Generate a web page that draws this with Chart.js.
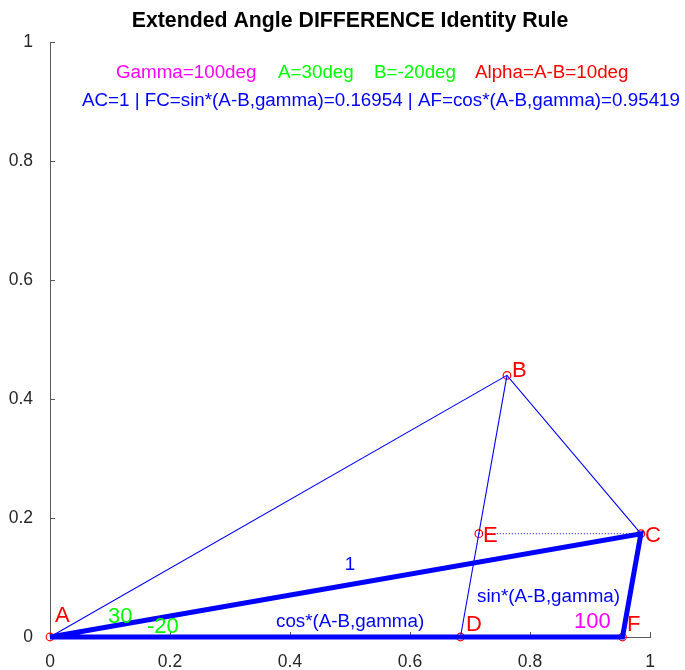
<!DOCTYPE html>
<html>
<head>
<meta charset="utf-8">
<script src="https://cdn.jsdelivr.net/npm/chart.js@4.4.0/dist/chart.umd.min.js"></script>
<style>
html,body{margin:0;padding:0;background:#fff;}
#wrap{width:685px;height:670px;}
</style>
</head>
<body>
<div id="wrap"><canvas id="c" width="685" height="670" style="width:685px;height:670px"></canvas></div>
<script>
// ---- data ----
const titleText = 'Extended Angle DIFFERENCE Identity Rule';
const pointNames = ['A', 'B', 'C', 'D', 'E', 'F'];
const pointX = [0, 0.7616, 0.9848, 0.6841, 0.7147, 0.9542];
const pointY = [0, 0.4397, 0.1736, 0, 0.1736, 0];
const thickPath = ['A', 'F', 'C', 'A'];
const thinPath1 = ['A', 'B', 'C'];
const thinPath2 = ['B', 'D'];
const dottedPath = ['E', 'C'];
const xTicks = [0, 0.2, 0.4, 0.6, 0.8, 1];
const yTicks = [0, 0.2, 0.4, 0.6, 0.8, 1];
const tickLabels = ['0', '0.2', '0.4', '0.6', '0.8', '1'];
// annotation anchors (data coordinates)
const pointLabelX = [0.0083, 0.770, 0.9917, 0.6933, 0.7217, 0.9617];
const pointLabelY = [0.0252, 0.437, 0.1597, 0.0101, 0.1597, 0.0101];
const angleTexts = ['30', '-20', '100'];
const angleX = [0.0967, 0.1617, 0.8733];
const angleY = [0.0235, 0.0067, 0.0151];
const angleColors = ['#00ff00', '#00ff00', '#ff00ff'];
const sideTexts = ['sin*(A-B,gamma)', 'cos*(A-B,gamma)', '1'];
const sideX = [0.7117, 0.3767, 0.5];
const sideY = [0.0588, 0.0168, 0.1126];
const headerTexts = ['Gamma=100deg', 'A=30deg', 'B=-20deg', 'Alpha=A-B=10deg'];
const headerX = [0.11, 0.38, 0.54, 0.7083];
const headerColors = ['#ff00ff', '#00ff00', '#00ff00', '#ff0000'];
const headerY = 0.9395;
const header2Text = 'AC=1 | FC=sin*(A-B,gamma)=0.16954 | AF=cos*(A-B,gamma)=0.95419';
const header2X = 0.0533;
const header2Y = 0.8924;

function pts(names) {
  return names.map(n => { const i = pointNames.indexOf(n); return {x: pointX[i], y: pointY[i]}; });
}

const FONT = '"Liberation Sans", Arial, Helvetica, sans-serif';
const BLUE = '#0000ff';

const annotPlugin = {
  id: 'annot',
  beforeDatasetsDraw(chart) {
    const ctx = chart.ctx, xs = chart.scales.x, ys = chart.scales.y, a = chart.chartArea;
    ctx.save();
    ctx.strokeStyle = '#5a5a5a';
    ctx.lineWidth = 1;
    ctx.beginPath();
    xTicks.forEach(v => { const p = Math.round(xs.getPixelForValue(v)) + 0.5; ctx.moveTo(p, a.bottom); ctx.lineTo(p, a.bottom - 5); });
    yTicks.forEach(v => { const p = Math.round(ys.getPixelForValue(v)) + 0.5; ctx.moveTo(a.left, p); ctx.lineTo(a.left + 5, p); });
    ctx.stroke();
    ctx.restore();
  },
  afterDatasetsDraw(chart) {
    const ctx = chart.ctx, xs = chart.scales.x, ys = chart.scales.y, a = chart.chartArea;
    ctx.save();
    ctx.textBaseline = 'alphabetic';
    // title
    ctx.fillStyle = '#000';
    ctx.font = 'bold 21.3px ' + FONT;
    ctx.textAlign = 'center';
    ctx.fillText(titleText, (a.left + a.right) / 2, 27);
    ctx.textAlign = 'left';
    // header
    ctx.font = '18.8px ' + FONT;
    headerTexts.forEach((t, i) => {
      ctx.fillStyle = headerColors[i];
      ctx.fillText(t, xs.getPixelForValue(headerX[i]), ys.getPixelForValue(headerY));
    });
    ctx.fillStyle = BLUE;
    ctx.fillText(header2Text, xs.getPixelForValue(header2X), ys.getPixelForValue(header2Y));
    // point labels
    ctx.font = '22px ' + FONT;
    ctx.fillStyle = '#ff0000';
    pointNames.forEach((t, i) => ctx.fillText(t, xs.getPixelForValue(pointLabelX[i]), ys.getPixelForValue(pointLabelY[i])));
    // angles
    angleTexts.forEach((t, i) => {
      ctx.fillStyle = angleColors[i];
      ctx.fillText(t, xs.getPixelForValue(angleX[i]), ys.getPixelForValue(angleY[i]));
    });
    // side texts
    ctx.font = '18.8px ' + FONT;
    ctx.fillStyle = BLUE;
    sideTexts.forEach((t, i) => {
      ctx.textAlign = (t === '1') ? 'center' : 'left';
      ctx.fillText(t, xs.getPixelForValue(sideX[i]), ys.getPixelForValue(sideY[i]));
    });
    ctx.restore();
  }
};

const lineDs = (data, w, dash) => ({
  type: 'line', data, borderColor: BLUE, borderWidth: w, borderDash: dash || [],
  pointRadius: 0, showLine: true, tension: 0, fill: false, clip: false,
  borderCapStyle: 'butt', borderJoinStyle: 'miter'
});

const tickCb = v => { const i = xTicks.findIndex(t => Math.abs(t - v) < 1e-9); return i >= 0 ? tickLabels[i] : ''; };

new Chart(document.getElementById('c'), {
  type: 'scatter',
  data: {
    datasets: [
      lineDs(pts(thickPath), 5),
      lineDs(pts(thinPath1), 1.1),
      lineDs(pts(thinPath2), 1.1),
      lineDs(pts(dottedPath), 1, [1, 2]),
      {
        type: 'scatter', data: pts(pointNames), pointStyle: 'circle', pointRadius: 3.8,
        borderColor: '#ff0000', backgroundColor: 'rgba(0,0,0,0)', pointBorderWidth: 1.2, clip: false
      }
    ]
  },
  options: {
    responsive: false,
    animation: false,
    devicePixelRatio: 1,
    layout: {padding: {left: 0, right: 35, top: 42, bottom: 0}},
    plugins: {legend: {display: false}, tooltip: {enabled: false}, title: {display: false}},
    scales: {
      x: {
        type: 'linear', min: 0, max: 1,
        afterBuildTicks: s => { s.ticks = xTicks.map(v => ({value: v})); },
        afterFit: s => { s.height = 33; },
        grid: {display: false},
        border: {display: true, color: '#5a5a5a', width: 1},
        ticks: {color: '#262626', font: {family: FONT, size: 17.5}, padding: 7, maxRotation: 0, callback: tickCb}
      },
      y: {
        type: 'linear', min: 0, max: 1,
        afterBuildTicks: s => { s.ticks = yTicks.map(v => ({value: v})); },
        afterFit: s => { s.width = 50; },
        grid: {display: false},
        border: {display: true, color: '#5a5a5a', width: 1},
        ticks: {color: '#262626', font: {family: FONT, size: 17.5}, padding: 9, callback: tickCb}
      }
    }
  },
  plugins: [annotPlugin]
});
</script>
</body>
</html>
